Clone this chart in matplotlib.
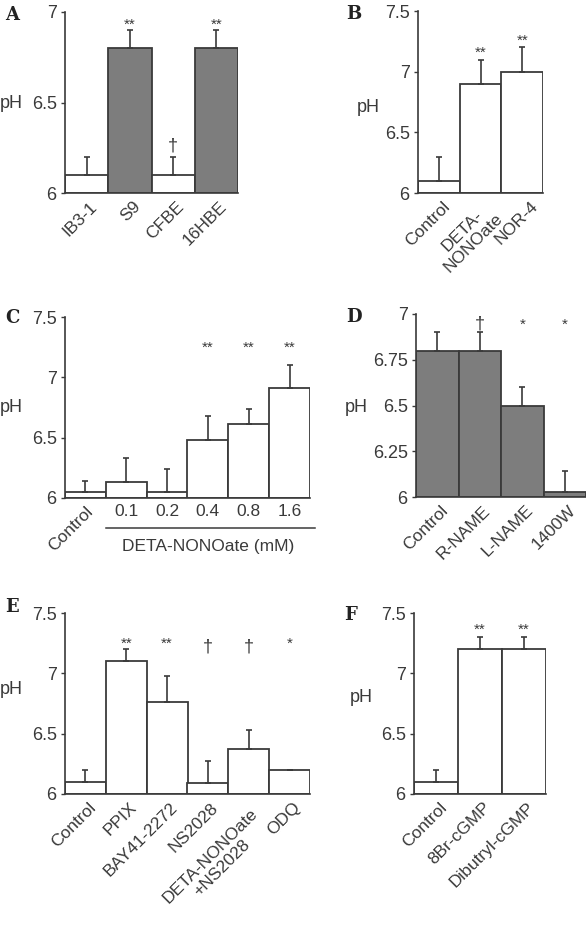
import numpy as np
import matplotlib
matplotlib.use('Agg')
import matplotlib.pyplot as plt
from matplotlib.transforms import ScaledTranslation

plt.rcParams['font.family'] = ['Liberation Sans', 'DejaVu Sans']

# Panel A
labels_a = ['IB3-1', 'S9', 'CFBE', '16HBE']
vals_a = [6.1, 6.8, 6.1, 6.8]
err_a = [0.1, 0.1, 0.1, 0.1]
sig_a = ['', '**', '†', '**']

# Panel B
labels_b = ['Control', 'DETA-\nNONOate', 'NOR-4']
vals_b = [6.1, 6.9, 7.0]
err_b = [0.2, 0.2, 0.2]
sig_b = ['', '**', '**']

# Panel C
labels_c = ['Control', '0.1', '0.2', '0.4', '0.8', '1.6']
vals_c = [6.05, 6.13, 6.05, 6.48, 6.61, 6.91]
err_c = [0.09, 0.20, 0.19, 0.20, 0.13, 0.19]
sig_c = ['', '', '', '**', '**', '**']

# Panel D
labels_d = ['Control', 'R-NAME', 'L-NAME', '1400W']
vals_d = [6.8, 6.8, 6.5, 6.03]
err_d = [0.1, 0.1, 0.1, 0.11]
sig_d = ['', '†', '*', '*']

# Panel E
labels_e = ['Control', 'PPIX', 'BAY41-2272', 'NS2028', 'DETA-NONOate\n+NS2028', 'ODQ']
vals_e = [6.1, 7.1, 6.76, 6.09, 6.37, 6.2]
err_e = [0.1, 0.1, 0.22, 0.18, 0.16, 0.0]
sig_e = ['', '**', '**', '†', '†', '*']

# Panel F
labels_f = ['Control', '8Br-cGMP', 'Dibutryl-cGMP']
vals_f = [6.1, 7.2, 7.2]
err_f = [0.1, 0.1, 0.1]
sig_f = ['', '**', '**']

W, H = 586, 935
fig = plt.figure(figsize=(W / 100, H / 100), dpi=100)

DARK = '#3a3a3a'
GRAY = '#7d7d7d'
FS = 12.5        # tick / category labels
FS_STAR = 11
FS_DAG = 13


def make_axes(l, r, t, b):
    return fig.add_axes([l / W, 1 - b / H, (r - l) / W, (b - t) / H])


def draw_panel(ax, vals, err, color, ylim, yticks, yticklabels):
    x = np.arange(len(vals))
    v = np.array(vals)
    ax.bar(x, v - ylim[0], bottom=ylim[0], width=1.0, color=color,
           edgecolor=DARK, linewidth=1.3, zorder=2)
    ax.errorbar(x, v, yerr=[np.zeros(len(v)), err], fmt='none',
                ecolor=DARK, elinewidth=1.2, capsize=2.2, capthick=1.2, zorder=3)
    ax.set_xlim(-0.5, len(vals) - 0.5)
    ax.set_ylim(*ylim)
    ax.set_yticks(yticks)
    ax.set_yticklabels(yticklabels)
    for s in ['top', 'right']:
        ax.spines[s].set_visible(False)
    for s in ['left', 'bottom']:
        ax.spines[s].set_color(DARK)
        ax.spines[s].set_linewidth(1.2)
    ax.spines['left'].set_zorder(4)
    ax.tick_params(axis='y', direction='out', length=3, width=1, color=DARK,
                   labelsize=FS + 0.5, labelcolor=DARK, pad=3)
    ax.tick_params(axis='x', length=0, labelsize=FS, labelcolor=DARK, pad=2)
    ax.patch.set_alpha(0)
    return x


def rotated_labels(ax, labels, dx=3, dy=-3, extra=None):
    ax.set_xticks(np.arange(len(labels)))
    ax.set_xticklabels(labels, rotation=45, ha='right', va='top',
                       rotation_mode='anchor', linespacing=1.15,
                       multialignment='center')
    for i, lab in enumerate(ax.get_xticklabels()):
        ex, ey = (extra or {}).get(i, (0, 0))
        off = ScaledTranslation((dx + ex) / 100, (dy + ey) / 100, fig.dpi_scale_trans)
        lab.set_transform(lab.get_transform() + off)


def sig_above(ax, sig, vals, err, dy=2, dy_dag=5):
    for i, s in enumerate(sig):
        if not s:
            continue
        fs = FS_DAG if s == '†' else FS_STAR
        ax.annotate(s, xy=(i, vals[i] + err[i]), xytext=(0, dy_dag if s == '†' else dy),
                    textcoords='offset pixels', ha='center', va='baseline',
                    fontsize=fs, color=DARK)


def sig_row(ax, sig, y_star, y_dag):
    for i, s in enumerate(sig):
        if not s:
            continue
        if s == '†':
            ax.text(i, y_dag, s, ha='center', va='baseline', fontsize=FS_DAG, color=DARK)
        else:
            ax.text(i, y_star, s, ha='center', va='baseline', fontsize=FS_STAR, color=DARK)


def panel_letter(px, py, s):
    fig.text(px / W, 1 - py / H, s, fontsize=13, fontweight='bold',
             ha='left', va='center', color='#222222', family='DejaVu Serif')


def ph_label(px, py):
    fig.text(px / W, 1 - py / H, 'pH', fontsize=FS + 0.5, ha='left', va='center', color=DARK)


# A
ax = make_axes(65, 238, 12, 193)
draw_panel(ax, vals_a, err_a, ['white', GRAY, 'white', GRAY], (6, 7),
           [6, 6.5, 7], ['6', '6.5', '7'])
rotated_labels(ax, labels_a)
sig_above(ax, sig_a, vals_a, err_a, dy=1, dy_dag=6)
panel_letter(5, 15, 'A')
ph_label(0, 103)

# B
ax = make_axes(418, 543, 11, 193)
draw_panel(ax, vals_b, err_b, 'white', (6, 7.5),
           [6, 6.5, 7, 7.5], ['6', '6.5', '7', '7.5'])
rotated_labels(ax, labels_b, extra={2: (5, 0)})
sig_above(ax, sig_b, vals_b, err_b, dy=3)
panel_letter(346, 14, 'B')
ph_label(357, 107)

# C
ax = make_axes(65, 310, 317, 498)
draw_panel(ax, vals_c, err_c, 'white', (6, 7.5),
           [6, 6.5, 7, 7.5], ['6', '6.5', '7', '7.5'])
ax.set_xticks(np.arange(len(labels_c)))
ax.set_xticklabels(labels_c, fontsize=FS)
ctl = ax.get_xticklabels()[0]
ctl.set_rotation(45)
ctl.set_ha('right')
ctl.set_rotation_mode('anchor')
ctl.set_transform(ctl.get_transform() + ScaledTranslation(0.03, -0.03, fig.dpi_scale_trans))
ax.tick_params(axis='x', pad=4)
line_y = (498 - 528) / (498 - 317)
ax.plot([0.5, 5.62], [line_y, line_y], color=DARK, lw=1.1,
        transform=ax.get_xaxis_transform(), clip_on=False)
ax.text(3, (498 - 546) / (498 - 317), 'DETA-NONOate (mM)', transform=ax.get_xaxis_transform(),
        ha='center', va='center', fontsize=FS, color=DARK)
sig_row(ax, sig_c, 7.21, 7.18)
panel_letter(5, 318, 'C')
ph_label(0, 407)

# D
ax = make_axes(416, 586, 314, 497)
draw_panel(ax, vals_d, err_d, GRAY, (6, 7),
           [6, 6.25, 6.5, 6.75, 7], ['6', '6.25', '6.5', '6.75', '7'])
rotated_labels(ax, labels_d)
sig_row(ax, sig_d, 6.92, 6.92)
panel_letter(346, 317, 'D')
ph_label(345, 408)

# E
ax = make_axes(65, 310, 613, 794)
draw_panel(ax, vals_e, err_e, 'white', (6, 7.5),
           [6, 6.5, 7, 7.5], ['6', '6.5', '7', '7.5'])
rotated_labels(ax, labels_e, extra={4: (-2, -6)})
sig_row(ax, sig_e, 7.21, 7.18)
panel_letter(5, 607, 'E')
ph_label(0, 690)

# F
ax = make_axes(414, 546, 613, 794)
draw_panel(ax, vals_f, err_f, 'white', (6, 7.5),
           [6, 6.5, 7, 7.5], ['6', '6.5', '7', '7.5'])
rotated_labels(ax, labels_f)
sig_above(ax, sig_f, vals_f, err_f, dy=3)
panel_letter(344, 615, 'F')
ph_label(350, 698)

fig.savefig('out.png', dpi=100)
